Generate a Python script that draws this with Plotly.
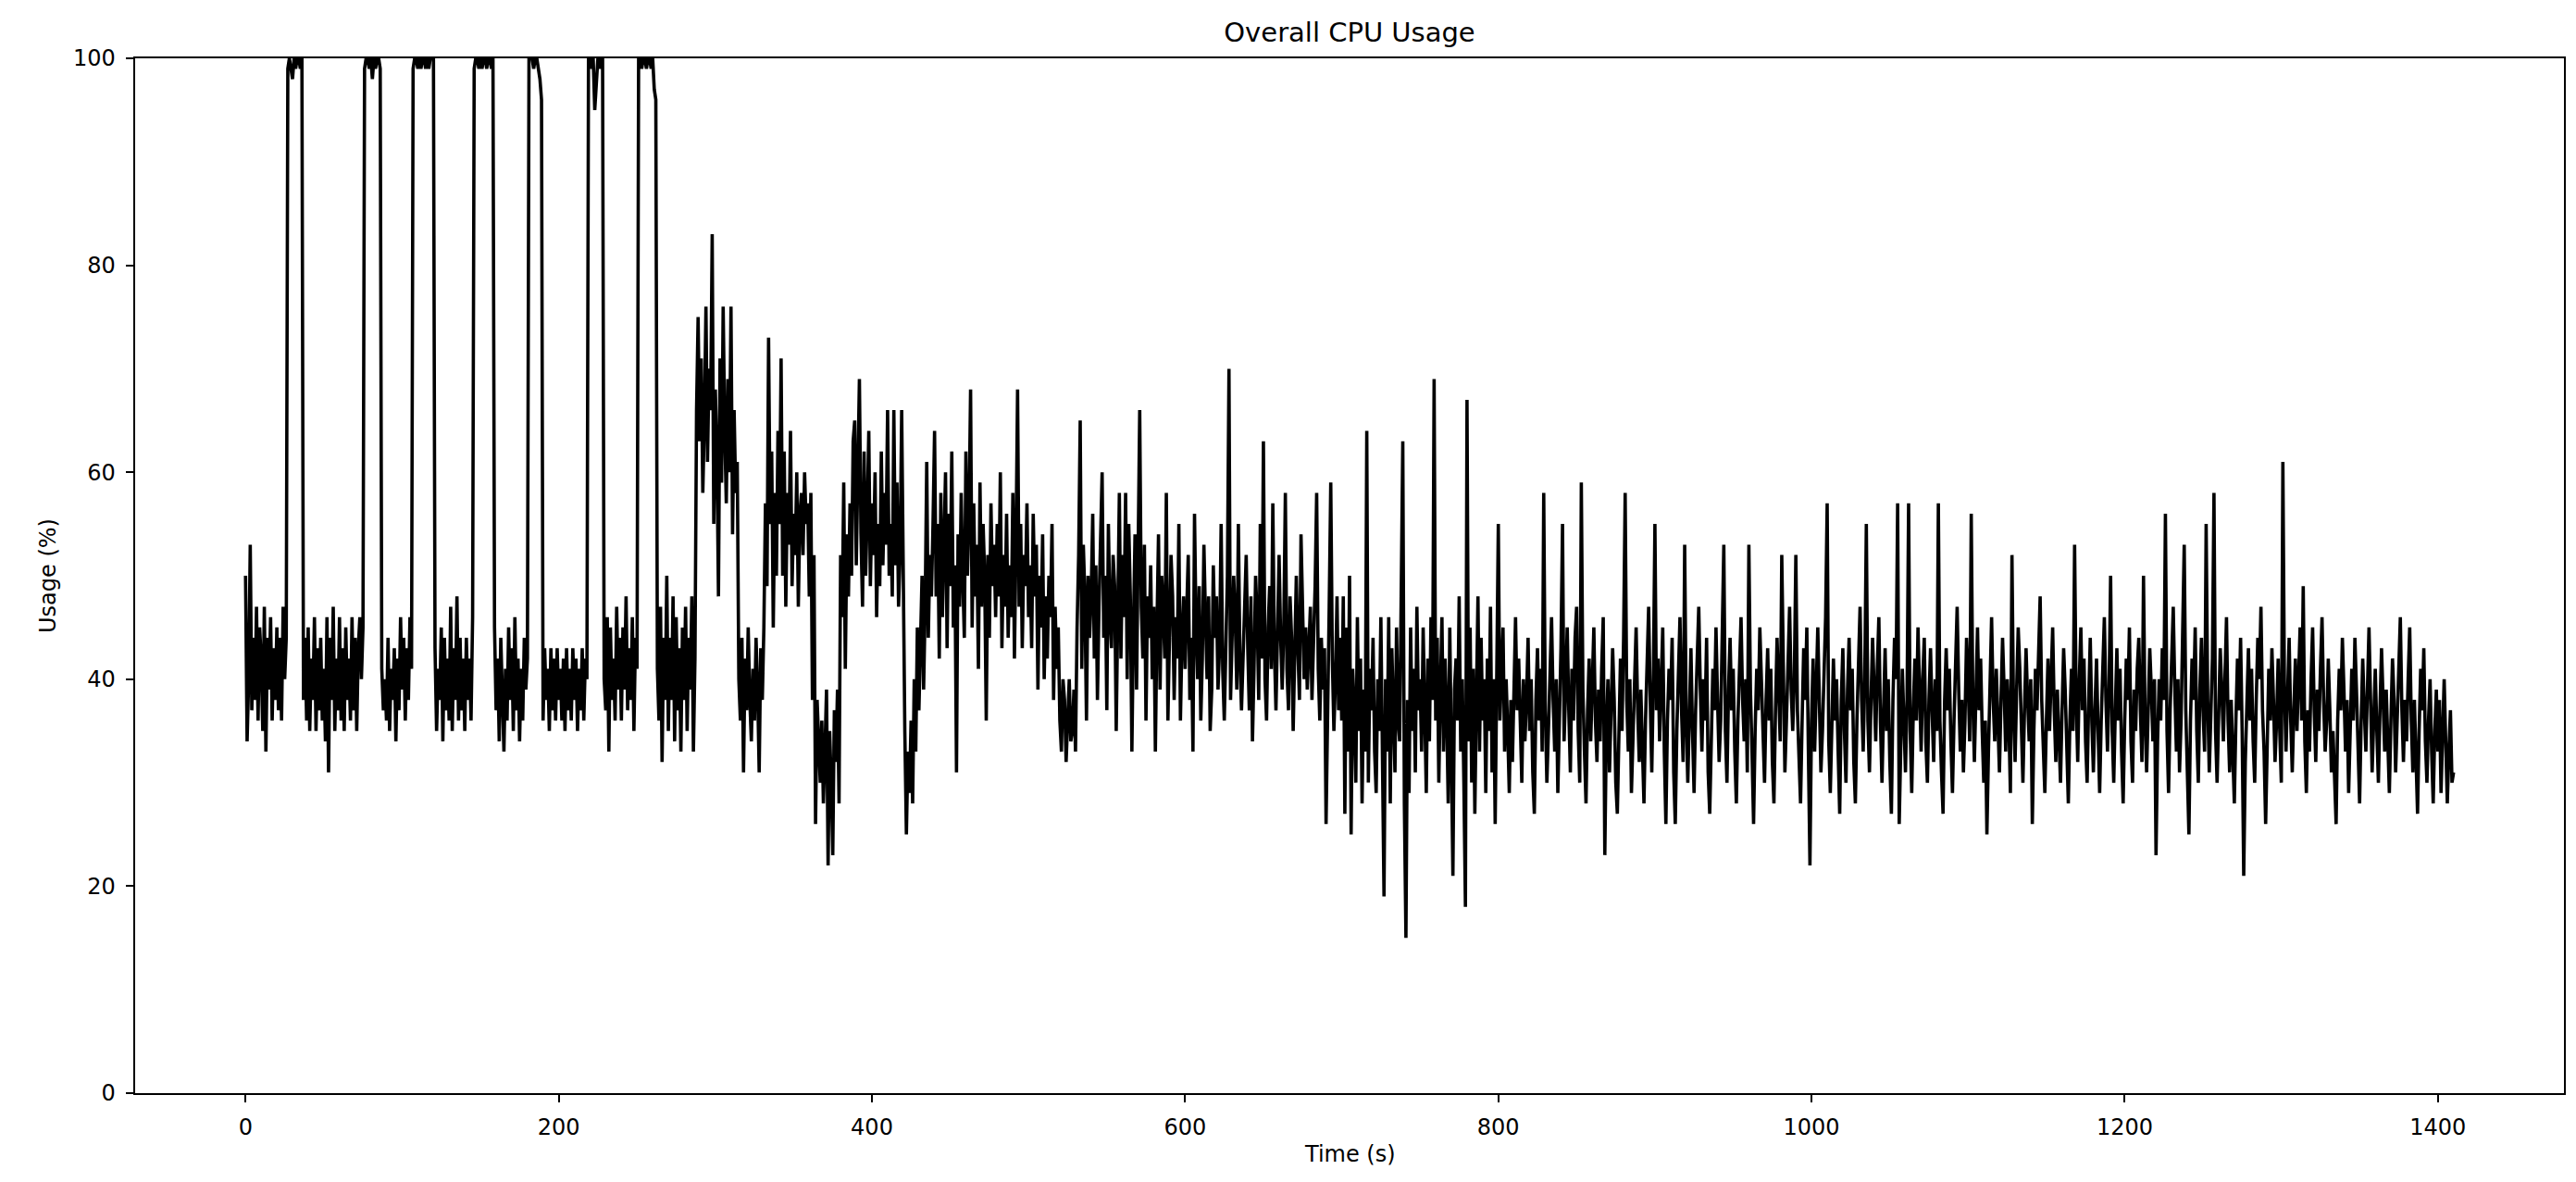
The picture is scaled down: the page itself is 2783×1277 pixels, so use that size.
import plotly.graph_objects as go

# CPU usage (%), one value per second starting at t = 0 s
# (each line below holds 20 consecutive seconds)
usage_bursts = [  # t = 0 .. 279 s, periodic bursts to 100 %
    50, 34, 40, 53, 37, 44, 38, 47, 36, 45, 42, 35, 47, 33, 44, 39, 46, 36, 43, 38,
    45, 37, 44, 36, 47, 40, 44, 99, 100, 99, 98, 100, 99, 100, 100, 99, 100, 38, 44, 36,
    45, 35, 42, 38, 46, 35, 43, 37, 44, 36, 41, 34, 46, 31, 44, 38, 47, 35, 42, 37,
    46, 36, 43, 35, 45, 38, 42, 36, 46, 37, 44, 35, 43, 46, 40, 45, 99, 100, 100, 99,
    100, 98, 100, 99, 100, 100, 99, 41, 37, 40, 36, 44, 35, 41, 38, 43, 34, 42, 37, 46,
    39, 44, 36, 43, 38, 46, 41, 99, 100, 100, 99, 100, 99, 100, 100, 99, 100, 99, 100, 100,
    100, 43, 35, 41, 38, 45, 34, 44, 37, 42, 36, 47, 35, 43, 38, 48, 36, 44, 37, 42,
    35, 44, 38, 42, 36, 46, 99, 100, 100, 99, 100, 99, 100, 100, 99, 100, 100, 99, 100, 45,
    37, 42, 34, 44, 38, 33, 41, 36, 45, 38, 43, 35, 46, 37, 42, 34, 41, 36, 44, 39,
    42, 100, 100, 100, 99, 100, 100, 99, 98, 96, 36, 43, 38, 41, 35, 43, 37, 42, 36, 43,
    38, 41, 36, 42, 35, 43, 37, 41, 36, 43, 38, 42, 35, 41, 37, 43, 36, 42, 40, 100,
    100, 99, 100, 95, 97, 100, 99, 100, 100, 40, 37, 46, 33, 45, 38, 42, 36, 47, 39, 44,
    36, 45, 39, 48, 37, 43, 38, 46, 35, 44, 41, 100, 100, 99, 100, 100, 99, 100, 100, 99,
    100, 97, 96, 41, 36, 47, 32, 44, 38, 50, 35, 44, 38, 48, 34, 46, 37, 43, 33, 45,
]
usage_transition = [  # t = 280 .. 599 s
    38, 47, 35, 44, 39, 48, 33, 42, 66, 75, 63, 71, 58, 65, 76, 61, 70, 66, 83, 55,
    68, 62, 48, 71, 59, 76, 64, 57, 69, 60, 76, 54, 66, 58, 61, 40, 36, 44, 31, 42,
    37, 45, 38, 34, 41, 36, 44, 39, 31, 43, 38, 45, 57, 49, 73, 55, 62, 45, 58, 50,
    64, 55, 71, 50, 62, 47, 58, 53, 64, 49, 56, 52, 60, 47, 56, 58, 52, 60, 55, 57,
    48, 58, 38, 52, 26, 38, 34, 30, 36, 28, 33, 39, 22, 35, 30, 23, 37, 32, 39, 28,
    52, 46, 59, 41, 54, 48, 57, 50, 63, 65, 51, 59, 69, 54, 47, 62, 50, 56, 64, 49,
    57, 52, 60, 46, 55, 49, 62, 51, 58, 53, 66, 50, 55, 48, 66, 51, 59, 47, 52, 66,
    45, 35, 25, 33, 29, 36, 28, 40, 33, 45, 37, 43, 50, 39, 47, 61, 44, 52, 48, 55,
    64, 48, 55, 42, 58, 46, 53, 60, 43, 56, 49, 62, 45, 51, 31, 54, 47, 58, 50, 44,
    62, 50, 56, 68, 45, 57, 48, 53, 41, 59, 47, 55, 50, 36, 52, 44, 57, 49, 53, 46,
    55, 48, 60, 43, 52, 47, 56, 44, 51, 46, 58, 42, 53, 68, 47, 55, 43, 52, 49, 57,
    46, 51, 43, 56, 48, 53, 39, 50, 45, 54, 40, 48, 42, 50, 46, 55, 38, 47, 41, 45,
    36, 33, 40, 38, 32, 37, 40, 34, 35, 39, 33, 45, 52, 65, 41, 53, 48, 36, 50, 44,
    48, 56, 42, 51, 38, 47, 55, 60, 44, 50, 37, 55, 46, 43, 52, 49, 35, 47, 58, 42,
    52, 46, 58, 40, 55, 48, 33, 45, 54, 39, 50, 66, 47, 42, 53, 36, 48, 44, 51, 40,
    47, 33, 45, 54, 39, 50, 47, 42, 58, 36, 44, 52, 48, 38, 46, 42, 55, 36, 44, 48,
]
usage_middle = [  # t = 600 .. 799 s
    41, 47, 52, 38, 44, 33, 56, 45, 40, 49, 36, 42, 53, 46, 40, 48, 35, 39, 51, 44,
    48, 39, 43, 55, 41, 36, 45, 50, 70, 38, 44, 50, 46, 39, 55, 42, 37, 43, 48, 52,
    43, 37, 48, 34, 41, 50, 46, 38, 55, 42, 63, 40, 36, 45, 49, 41, 57, 43, 37, 46,
    52, 44, 39, 45, 58, 41, 37, 48, 44, 35, 41, 50, 43, 38, 54, 47, 40, 45, 39, 43,
    47, 38, 43, 49, 58, 41, 36, 44, 39, 43, 26, 40, 47, 59, 42, 35, 40, 48, 37, 44,
    36, 48, 27, 45, 33, 50, 25, 41, 37, 30, 46, 35, 42, 28, 39, 33, 64, 30, 41, 37,
    44, 33, 29, 40, 35, 46, 31, 19, 40, 33, 46, 28, 43, 37, 31, 45, 36, 34, 48, 63,
    28, 15, 38, 29, 45, 35, 41, 31, 47, 37, 40, 33, 45, 36, 29, 42, 34, 46, 38, 69,
    36, 44, 30, 39, 46, 33, 42, 37, 28, 45, 35, 21, 39, 42, 36, 48, 33, 40, 30, 18,
    67, 34, 45, 30, 41, 27, 38, 48, 33, 44, 36, 40, 29, 42, 35, 47, 31, 40, 26, 38,
]
usage_late = [  # t = 800 .. 1099 s
    55, 36, 41, 45, 33, 40, 35, 29, 38, 32, 39, 46, 37, 42, 36, 30, 40, 34, 38, 44,
    35, 40, 31, 27, 38, 43, 36, 41, 33, 58, 37, 30, 35, 42, 46, 38, 33, 40, 29, 36,
    43, 55, 34, 39, 45, 37, 31, 41, 36, 44, 47, 35, 30, 59, 39, 33, 28, 37, 42, 34,
    40, 45, 36, 32, 39, 34, 41, 46, 23, 35, 40, 31, 37, 43, 38, 30, 27, 36, 42, 35,
    44, 58, 38, 33, 40, 29, 35, 41, 45, 37, 32, 39, 34, 28, 36, 43, 47, 38, 31, 40,
    55, 37, 42, 34, 39, 45, 33, 26, 36, 41, 38, 44, 31, 26, 35, 40, 46, 37, 32, 53,
    36, 30, 38, 43, 35, 29, 37, 42, 47, 39, 33, 40, 36, 44, 31, 27, 35, 41, 37, 45,
    38, 32, 36, 43, 53, 35, 30, 39, 44, 37, 41, 33, 28, 36, 42, 46, 38, 34, 40, 31,
    53, 39, 33, 26, 35, 41, 37, 45, 40, 34, 30, 38, 43, 36, 41, 32, 28, 37, 44, 39,
    34, 52, 38, 31, 36, 42, 47, 39, 35, 40, 52, 37, 32, 28, 36, 43, 38, 45, 33, 22,
    36, 42, 33, 39, 45, 38, 31, 35, 41, 46, 57, 34, 29, 37, 42, 36, 40, 33, 27, 38,
    43, 35, 30, 39, 44, 37, 41, 32, 28, 36, 42, 47, 38, 33, 40, 55, 36, 31, 38, 44,
    39, 34, 41, 46, 36, 30, 37, 43, 35, 40, 32, 27, 38, 44, 40, 57, 26, 34, 41, 36,
    31, 38, 57, 35, 29, 37, 42, 36, 45, 39, 33, 40, 44, 34, 30, 38, 43, 37, 32, 40,
    35, 57, 36, 31, 27, 38, 43, 37, 41, 34, 29, 36, 42, 47, 39, 33, 38, 31, 36, 44,
]
usage_end = [  # t = 1100 .. 1410 s
    40, 34, 56, 38, 32, 39, 45, 37, 42, 35, 30, 36, 25, 33, 40, 46, 38, 34, 41, 36,
    31, 38, 44, 39, 33, 40, 36, 29, 52, 37, 32, 39, 45, 41, 35, 30, 37, 43, 38, 34,
    40, 26, 35, 41, 37, 44, 48, 38, 33, 29, 36, 42, 35, 40, 45, 37, 32, 39, 34, 30,
    37, 43, 39, 33, 28, 36, 41, 35, 53, 38, 32, 40, 45, 37, 42, 34, 30, 38, 44, 36,
    31, 37, 42, 35, 29, 36, 40, 46, 38, 33, 39, 50, 35, 30, 37, 43, 36, 41, 33, 28,
    36, 42, 38, 45, 34, 30, 39, 35, 41, 44, 37, 32, 50, 36, 31, 38, 43, 39, 34, 40,
    23, 34, 40, 36, 43, 38, 56, 35, 29, 37, 42, 47, 39, 33, 40, 31, 36, 44, 53, 37,
    32, 25, 36, 42, 38, 45, 35, 30, 39, 44, 37, 33, 55, 38, 31, 36, 42, 58, 35, 30,
    37, 43, 39, 34, 40, 46, 36, 31, 38, 33, 28, 36, 42, 37, 44, 35, 21, 32, 38, 43,
    36, 41, 34, 30, 38, 44, 40, 47, 37, 33, 26, 35, 41, 36, 43, 38, 32, 36, 42, 35,
    30, 61, 39, 33, 38, 44, 36, 31, 37, 42, 35, 40, 45, 36, 49, 34, 29, 37, 33, 40,
    45, 37, 32, 39, 35, 41, 46, 38, 33, 36, 42, 37, 31, 35, 30, 26, 36, 41, 37, 44,
    39, 33, 38, 29, 35, 41, 36, 44, 39, 32, 28, 36, 42, 37, 33, 39, 45, 38, 31, 36,
    41, 35, 30, 37, 43, 38, 33, 39, 35, 29, 36, 42, 38, 31, 36, 40, 46, 37, 32, 38,
    34, 40, 45, 36, 31, 38, 33, 27, 35, 41, 37, 43, 34, 30, 36, 40, 33, 28, 35, 39,
    33, 38, 29, 35, 40, 34, 28, 33, 37, 30, 31,
]

usage = usage_bursts + usage_transition + usage_middle + usage_late + usage_end
time_s = list(range(len(usage)))

x_ticks = [0, 200, 400, 600, 800, 1000, 1200, 1400]
y_ticks = [0, 20, 40, 60, 80, 100]

W, H = 2783, 1277
FONT = "DejaVu Sans"
L, R, T, B = 138, 2762, 55, 1173  # plot-area edges in pixels

fig = go.Figure()
fig.add_trace(go.Scatter(
    x=time_s, y=usage, mode="lines",
    line=dict(color="black", width=3.6),
    showlegend=False, hoverinfo="skip",
))

axis_common = dict(
    showgrid=False, zeroline=False,
    showline=True, linecolor="black", linewidth=1.9, mirror=True,
    ticks="outside", ticklen=8.5, tickwidth=1.9, tickcolor="black",
    tickfont=dict(family=FONT, size=24, color="black"),
    ticklabelstandoff=6,
)

fig.update_layout(
    width=W, height=H,
    margin=dict(l=L, r=W - R, t=T, b=H - B),
    paper_bgcolor="white", plot_bgcolor="white",
    title=dict(text="Overall CPU Usage", x=(L + R) / 2 / W, xanchor="center",
               y=1 - 27 / H, yanchor="middle", yref="container",
               font=dict(family=FONT, size=29, color="black")),
    xaxis=dict(range=[-70.5, 1480.5], tickvals=x_ticks, **axis_common),
    yaxis=dict(range=[0, 100], tickvals=y_ticks, **axis_common),
    annotations=[
        dict(text="Time (s)", xref="paper", yref="paper", x=0.5, y=-(1239 - B) / (B - T),
             xanchor="center", yanchor="middle", showarrow=False,
             font=dict(family=FONT, size=24, color="black")),
        dict(text="Usage (%)", xref="paper", yref="paper", x=-(L - 44) / (R - L), y=0.5,
             xanchor="center", yanchor="middle", showarrow=False, textangle=-90,
             font=dict(family=FONT, size=24, color="black")),
    ],
)

fig.write_html("out.html")
